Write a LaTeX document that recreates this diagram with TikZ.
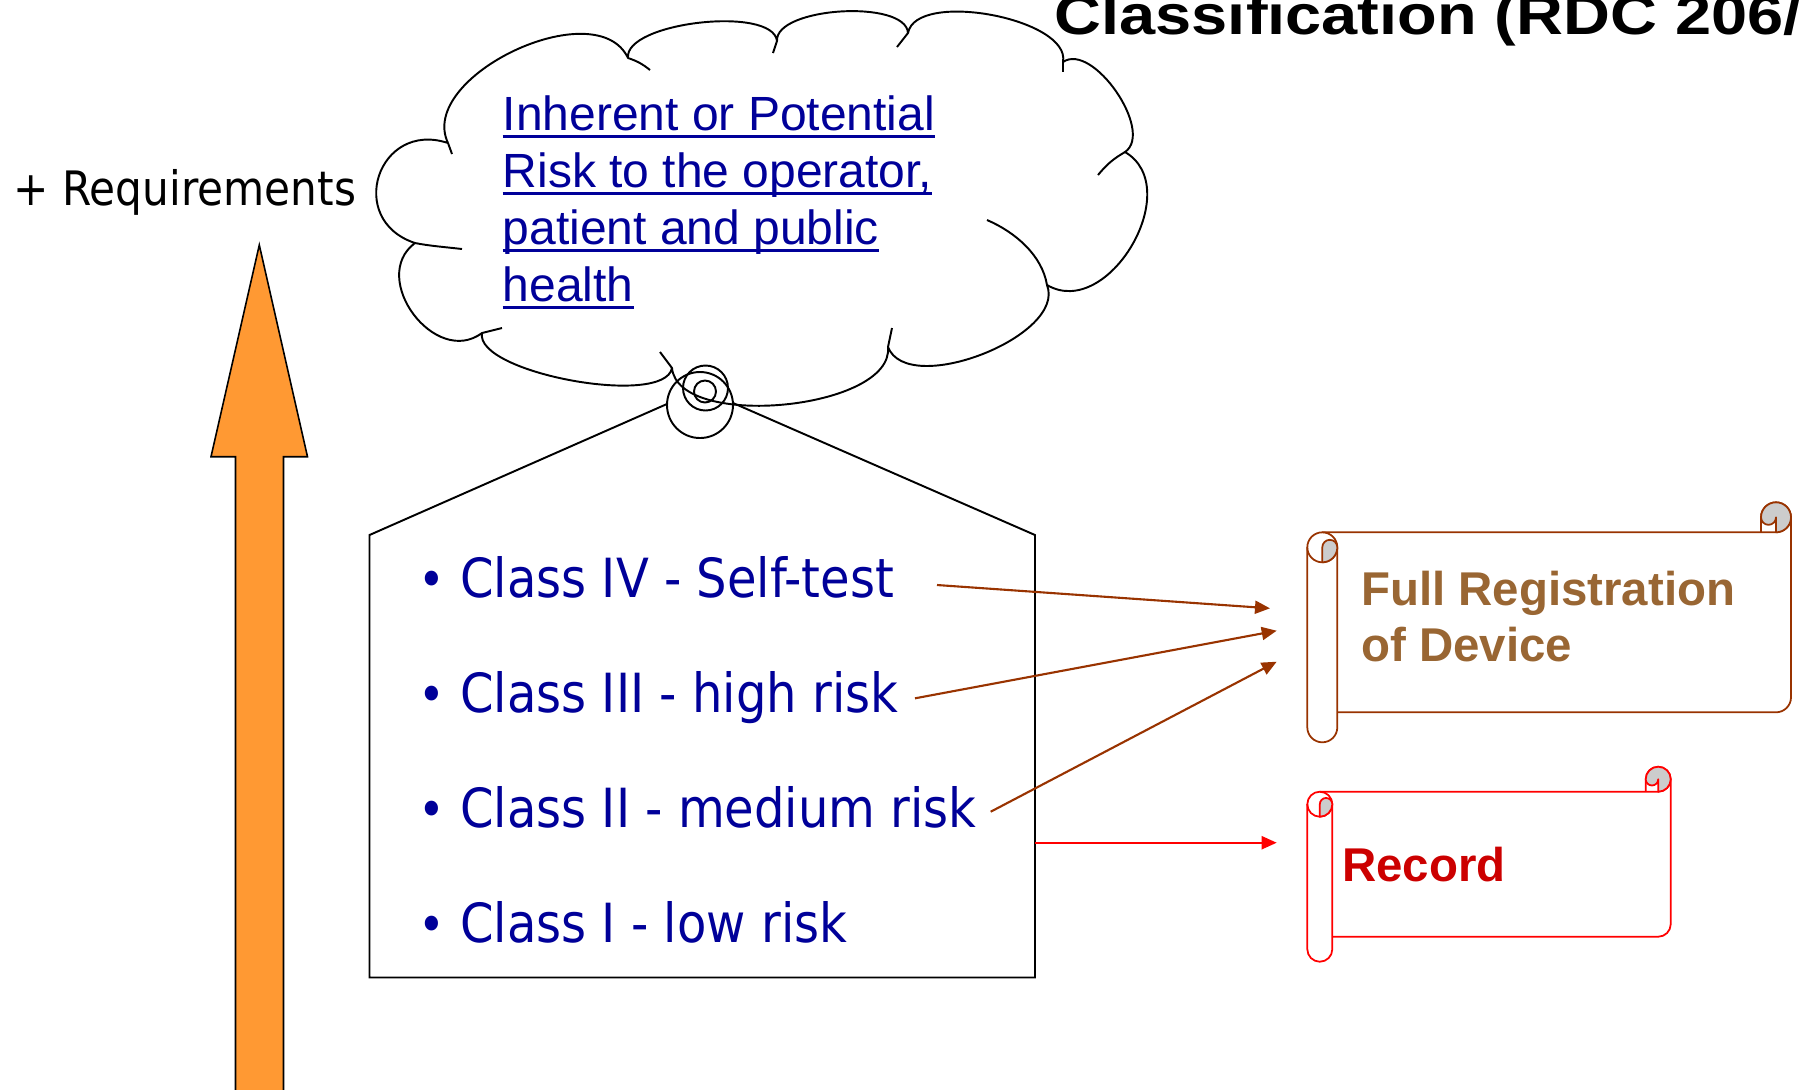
\documentclass[tikz,border=0pt]{standalone}
\usepackage{fontspec}
\setmainfont{Liberation Sans}
\newfontfamily\arialf{Liberation Sans}
\newfontfamily\tahf[FakeStretch=0.89]{DejaVu Sans}
\newfontfamily\headf[FakeStretch=1.16]{Liberation Sans}
\usetikzlibrary{calc,arrows.meta}

\definecolor{navy}{RGB}{0,0,153}
\definecolor{rust}{RGB}{153,51,0}
\definecolor{regbrown}{RGB}{153,102,51}
\definecolor{recred}{RGB}{204,0,0}
\definecolor{orangefill}{RGB}{255,153,51}
\definecolor{curlgray}{RGB}{204,204,204}

% underlined hyperlink-style text
\newsavebox\ulinebox
\newcommand\linkul[1]{\sbox\ulinebox{#1}\rlap{\rule[-0.75mm]{\wd\ulinebox}{0.27mm}}\usebox\ulinebox}

% horizontal scroll: left, top, right, bottom, curl size, line colour
\newcommand\drawscroll[6]{%
  \pgfmathsetmacro\scL{#1}\pgfmathsetmacro\scT{#2}%
  \pgfmathsetmacro\scR{#3}\pgfmathsetmacro\scB{#4}%
  \pgfmathsetmacro\scC{#5}\pgfmathsetmacro\scH{#5/2}\pgfmathsetmacro\scQ{#5/4}%
  % sheet
  \draw[scrollline,#6] (\scL+\scH,\scT+\scC) -- (\scR-\scH,\scT+\scC)
     arc[start angle=90,end angle=0,radius=\scH] -- (\scR,\scB-\scC-\scH)
     arc[start angle=0,end angle=90,radius=\scH] -- (\scL+\scC,\scB-\scC);
  % upper right curl
  \draw[scrollline,#6] (\scR-\scC,\scT+\scC) -- (\scR-\scC,\scT+\scH)
     arc[start angle=180,end angle=360,radius=\scH];
  \filldraw[scrollline,#6,fill=curlgray] (\scR-\scC,\scT+\scH)
     arc[start angle=180,end angle=360,radius=\scH]
     arc[start angle=0,end angle=90,radius=\scH] -- (\scR-\scH,\scT+\scH)
     arc[start angle=0,end angle=180,radius=\scQ] -- cycle;
  % left roll
  \draw[scrollline,#6] (\scL+\scH,\scT+\scC+\scH) circle[radius=\scH];
  \draw[scrollline,#6] (\scL,\scT+\scC+\scH) -- (\scL,\scB-\scH)
     arc[start angle=180,end angle=0,radius=\scH] -- (\scL+\scC,\scT+\scC+\scH);
  \filldraw[scrollline,#6,fill=curlgray] (\scL+\scH,\scT+2*\scC) -- (\scL+\scH,\scT+\scC+\scH)
     arc[start angle=180,end angle=360,radius=\scQ]
     arc[start angle=0,end angle=90,radius=\scH] -- cycle;
}

\tikzset{
  bumpto/.style={to path={.. controls ($(\tikztostart)!#1!90:(\tikztotarget)$)
      and ($(\tikztotarget)!#1!-90:(\tikztostart)$) .. (\tikztotarget)}},
  cloudline/.style={draw=black,line width=0.55pt,line join=round},
  tagline/.style={draw=black,line width=0.55pt},
  scrollline/.style={line width=0.5pt,line join=round},
  linktext/.style={inner sep=0pt,anchor=base west,text=navy,
      font=\arialf\fontsize{13.66pt}{16.2pt}\selectfont},
  classtext/.style={inner sep=0pt,anchor=base west,text=navy,
      font=\tahf\fontsize{15.36pt}{18pt}\selectfont},
  bulletmark/.style={inner sep=0pt,anchor=base,text=navy,
      font=\tahf\fontsize{14.5pt}{18pt}\selectfont},
  scrolltext/.style={inner sep=0pt,anchor=base west,
      font=\arialf\bfseries\fontsize{13.49pt}{16.1pt}\selectfont},
  connector/.style={line width=0.6pt,-{Triangle[length=1.5mm,width=1.3mm]}},
}

\begin{document}
\begin{tikzpicture}[x=0.1mm,y=-0.1mm]
  \useasboundingbox (0,0) rectangle (1799,1089);
  \fill[white] (0,0) rectangle (1799,1089);
  \clip (0,0) rectangle (1799,1089);

  % heading, cut by the frame
  \node[inner sep=0pt,anchor=base west,font=\headf\bfseries\fontsize{15.93pt}{19pt}\selectfont]
    (title) at (1054,34) {Classification (RDC 206/0};

  % growing requirements
  \filldraw[fill=orangefill,draw=black,line width=0.45pt]
    (259.3,245) -- (307.5,456.7) -- (283.5,456.7) -- (283.5,1100)
    -- (235.5,1100) -- (235.5,456.7) -- (211,456.7) -- cycle;
  \node[inner sep=0pt,anchor=base west,font=\tahf\fontsize{13.5pt}{16pt}\selectfont]
    (req) at (13,205) {+ Requirements};

  % tag
  \draw[tagline,line join=miter] (369.5,535) -- (701,389) -- (1035,535)
    -- (1035,977.5) -- (369.5,977.5) -- cycle;
  \filldraw[tagline,fill=white] (700,405) circle[radius=33];

  % thought cloud
  \coordinate (k1) at (448,143);
  \coordinate (k2) at (628,58);
  \coordinate (k3) at (777,41);
  \coordinate (k4) at (908,33);
  \coordinate (k5) at (1063,62);
  \coordinate (k6) at (1125,152);
  \coordinate (k7) at (1047,285);
  \coordinate (k8) at (888,347);
  \coordinate (k9) at (672,368);
  \coordinate (k10) at (482,333);
  \coordinate (k11) at (415,243);
  \draw[cloudline] (k1) to[bumpto=0.37] (k2) to[bumpto=0.24] (k3)
    to[bumpto=0.26] (k4) to[bumpto=0.28] (k5) to[bumpto=0.33] (k6)
    to[bumpto=0.46] (k7) to[bumpto=0.32] (k8) to[bumpto=0.29] (k9)
    to[bumpto=0.21] (k10) to[bumpto=0.52] (k11) to[bumpto=0.70] (k1);
  % inner ends of the puffs
  \draw[cloudline] (k1) -- (452,154);
  \draw[cloudline] (k2) to[bend left=10] (650,70);
  \draw[cloudline] (k3) -- (773,53);
  \draw[cloudline] (k4) -- (897,47);
  \draw[cloudline] (k5) -- (1063,72);
  \draw[cloudline] (k6) to[bend right=10] (1098,175);
  \draw[cloudline] (k7) .. controls (1042,255) and (1015,232) .. (987,220);
  \draw[cloudline] (k8) -- (892,328);
  \draw[cloudline] (k9) -- (660,352);
  \draw[cloudline] (k10) -- (502,328);
  \draw[cloudline] (k11) .. controls (430,246) and (445,247) .. (462,249);
  % callout bubbles
  \draw[cloudline] (705.5,388) circle[radius=22.5];
  \draw[cloudline] (705,391.5) circle[radius=11];

  \node[linktext] (r1) at (502,130) {\linkul{Inherent or Potential}};
  \node[linktext] (r2) at (502,187) {\linkul{Risk to the operator,}};
  \node[linktext] (r3) at (502,244) {\linkul{patient and public}};
  \node[linktext] (r4) at (502,301) {\linkul{health}};

  % classes
  \node[bulletmark] (b4) at (431.7,597) {•};
  \node[classtext] (c4) at (459.5,597) {Class IV - Self-test};
  \node[bulletmark] (b3) at (431.7,712) {•};
  \node[classtext] (c3) at (459.5,712) {Class III - high risk};
  \node[bulletmark] (b2) at (431.7,827) {•};
  \node[classtext] (c2) at (459.5,827) {Class II - medium risk};
  \node[bulletmark] (b1) at (431.7,942) {•};
  \node[classtext] (c1) at (459.5,942) {Class I - low risk};

  % scrolls
  \drawscroll{1307.3}{502.3}{1791}{742.3}{30}{draw=rust}
  \node[scrolltext,text=regbrown] (full1) at (1360.5,605) {Full Registration};
  \node[scrolltext,text=regbrown] (full2) at (1360.5,661.7) {of Device};
  \drawscroll{1307.3}{766.7}{1670.7}{961.7}{25}{draw=red}
  \node[scrolltext,text=recred] (rec) at (1341.5,881.7) {Record};

  % connectors
  \coordinate (s4) at (937,585);
  \coordinate (e4) at (1270,608.3);
  \coordinate (s3) at (915,698.3);
  \coordinate (e3) at (1276.7,630.7);
  \coordinate (s2) at (990.7,811.7);
  \coordinate (e2) at (1276.7,661.7);
  \coordinate (s1) at (1035,842.7);
  \coordinate (e1) at (1276.7,842.7);
  \draw[connector,draw=rust,fill=rust] (s4) -- (e4);
  \draw[connector,draw=rust,fill=rust] (s3) -- (e3);
  \draw[connector,draw=rust,fill=rust] (s2) -- (e2);
  \draw[connector,draw=red,fill=red] (s1) -- (e1);
\end{tikzpicture}
\end{document}
